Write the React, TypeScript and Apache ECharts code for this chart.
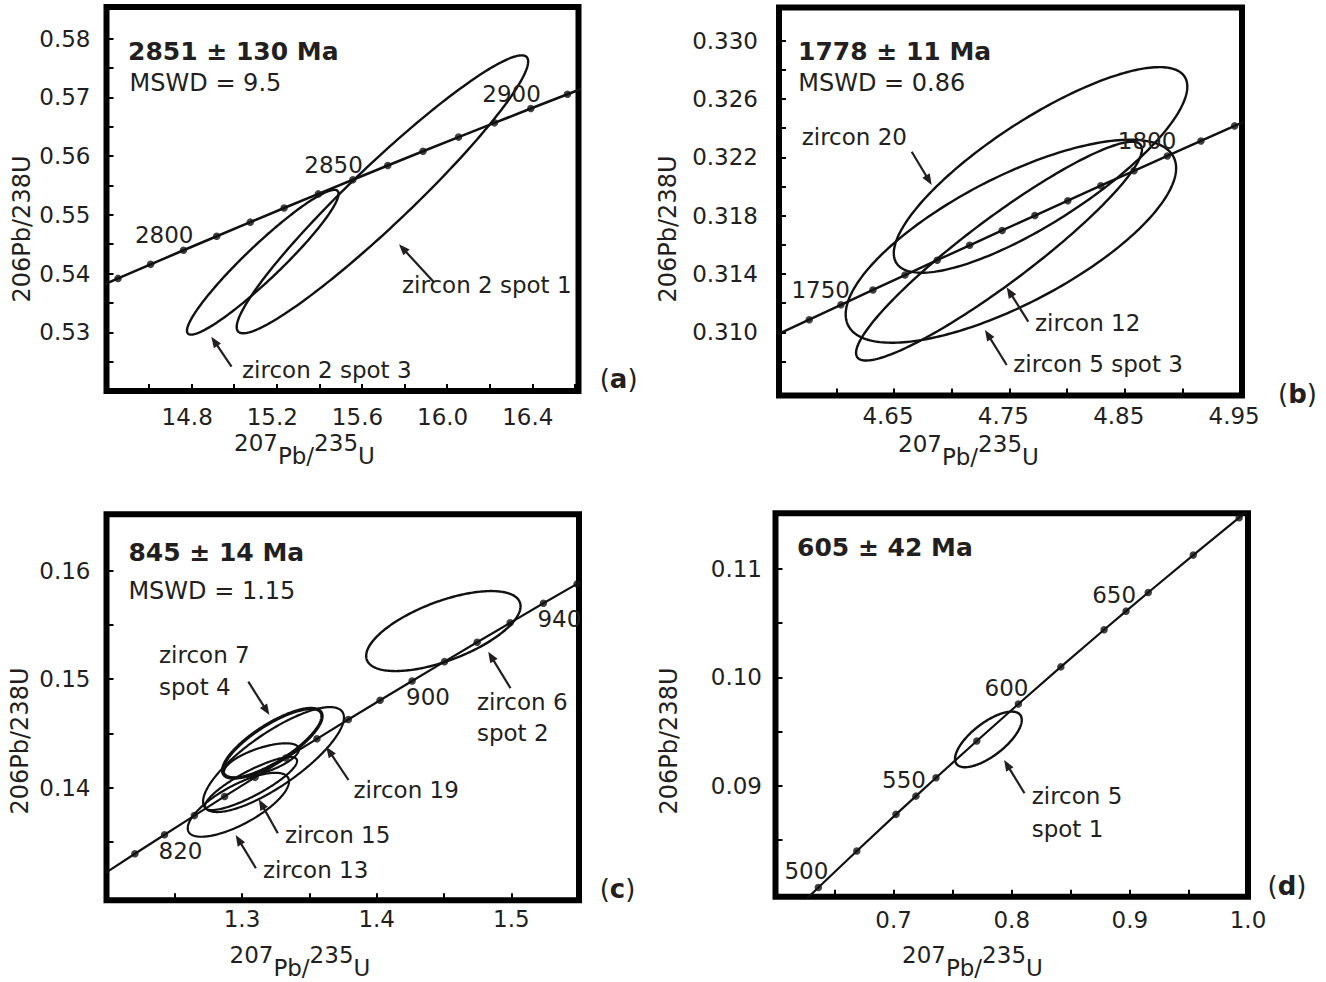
import React, { useEffect, useRef } from 'react';
import * as echarts from 'echarts';

const FONT = 'DejaVu Sans';
const INK = '#231f20';

// ================= Panel (a) =================
const agesA = [2770, 2780, 2790, 2800, 2810, 2820, 2830, 2840, 2850, 2860, 2870, 2880, 2890, 2900, 2910, 2920];
const r75A = [14.3028, 14.4542, 14.6072, 14.7617, 14.9177, 15.0752, 15.2343, 15.395, 15.5572, 15.7211, 15.8866, 16.0537, 16.2225, 16.393, 16.5651, 16.739];
const r68A = [0.53679, 0.53918, 0.54157, 0.54396, 0.54636, 0.54876, 0.55116, 0.55357, 0.55598, 0.5584, 0.56082, 0.56324, 0.56567, 0.5681, 0.57053, 0.57297];
const dotAgesA = [2780, 2790, 2800, 2810, 2820, 2830, 2840, 2850, 2860, 2870, 2880, 2890, 2900, 2910];
const labelAgesA = [2800, 2850, 2900];
const ellCxA = [15.696, 15.134];
const ellSxA = [0.6845, 0.356];
const ellCyA = [0.5535, 0.54193];
const ellSyA = [0.02367, 0.01233];
const ellRhoA = [0.955, 0.945];
const xRangeA = [14.4, 16.617];
const yRangeA = [0.52, 0.5854];
const xTicksA = [14.6, 14.8, 15.0, 15.2, 15.4, 15.6, 15.8, 16.0, 16.2, 16.4, 16.6];
const xLabelsA = [14.8, 15.2, 15.6, 16.0, 16.4];
const yTicksA = [0.525, 0.53, 0.535, 0.54, 0.545, 0.55, 0.555, 0.56, 0.565, 0.57, 0.575, 0.58];
const yLabelsA = [0.53, 0.54, 0.55, 0.56, 0.57, 0.58];

// ================= Panel (b) =================
const agesB = [1740, 1745, 1750, 1755, 1760, 1765, 1770, 1775, 1780, 1785, 1790, 1795, 1800, 1805, 1810, 1815];
const r75B = [4.5491, 4.5765, 4.604, 4.6317, 4.6595, 4.6874, 4.7155, 4.7437, 4.7721, 4.8006, 4.8292, 4.858, 4.8869, 4.916, 4.9452, 4.9745];
const r68B = [0.30986, 0.31087, 0.31189, 0.31291, 0.31393, 0.31495, 0.31597, 0.31699, 0.31801, 0.31903, 0.32006, 0.32108, 0.3221, 0.32313, 0.32416, 0.32518];
const dotAgesB = [1745, 1750, 1755, 1760, 1765, 1770, 1775, 1780, 1785, 1790, 1795, 1800, 1805, 1810];
const labelAgesB = [1750, 1800];
const ellCxB = [4.777, 4.741, 4.7513];
const ellSxB = [0.1272, 0.1239, 0.1432];
const ellCyB = [0.32114, 0.31557, 0.31625];
const ellSyB = [0.00705, 0.0075, 0.00696];
const ellRhoB = [0.81, 0.93, 0.72];
const xRangeB = [4.5503, 4.9516];
const yRangeB = [0.30567, 0.33228];
const xTicksB = [4.6, 4.65, 4.7, 4.75, 4.8, 4.85, 4.9, 4.95];
const xLabelsB = [4.65, 4.75, 4.85, 4.95];
const yTicksB = [0.308, 0.31, 0.312, 0.314, 0.316, 0.318, 0.32, 0.322, 0.324, 0.326, 0.328, 0.33];
const yLabelsB = [0.31, 0.314, 0.318, 0.322, 0.326, 0.33];

// ================= Panel (c) =================
const agesC = [800, 810, 820, 830, 840, 850, 860, 870, 880, 890, 900, 910, 920, 930, 940, 950, 960];
const r75C = [1.19873, 1.22049, 1.24247, 1.26466, 1.28708, 1.30971, 1.33257, 1.35566, 1.37897, 1.40252, 1.42629, 1.45031, 1.47456, 1.49905, 1.52378, 1.54876, 1.57399];
const r68C = [0.13213, 0.13389, 0.13565, 0.13741, 0.13918, 0.14094, 0.14272, 0.14449, 0.14627, 0.14805, 0.14983, 0.15161, 0.1534, 0.15519, 0.15699, 0.15878, 0.16058];
const dotAgesC = [810, 820, 830, 840, 850, 860, 870, 880, 890, 900, 910, 920, 930, 940, 950];
const labelAgesC = [820, 900, 940];
const ellCxC = [1.3225, 1.3234, 1.3145, 1.3067, 1.2973, 1.4495];
const ellSxC = [0.0369, 0.0523, 0.0278, 0.0342, 0.0376, 0.0573];
const ellCyC = [0.14408, 0.14258, 0.1425, 0.14037, 0.13841, 0.15443];
const ellSyC = [0.00321, 0.00484, 0.00158, 0.00245, 0.00295, 0.00369];
const ellRhoC = [0.78, 0.8, 0.65, 0.85, 0.73, 0.62];
const xRangeC = [1.1994, 1.5502];
const yRangeC = [0.1296, 0.1652];
const xTicksC = [1.25, 1.3, 1.35, 1.4, 1.45, 1.5, 1.55];
const xLabelsC = [1.3, 1.4, 1.5];
const yTicksC = [0.135, 0.14, 0.145, 0.15, 0.155, 0.16];
const yLabelsC = [0.14, 0.15, 0.16];

// ================= Panel (d) =================
const agesD = [480, 500, 520, 540, 550, 560, 580, 600, 620, 640, 650, 660, 680, 700, 720];
const r75D = [0.60437, 0.63628, 0.66883, 0.70203, 0.71887, 0.73588, 0.77041, 0.80563, 0.84155, 0.87818, 0.89677, 0.91554, 0.95365, 0.99251, 1.03215];
const r68D = [0.0773, 0.08065, 0.08401, 0.08738, 0.08906, 0.09075, 0.09414, 0.09754, 0.10096, 0.10438, 0.10609, 0.10781, 0.11125, 0.1147, 0.11817];
const dotAgesD = [500, 520, 540, 550, 560, 580, 600, 620, 640, 650, 660, 680, 700];
const labelAgesD = [500, 550, 600, 650];
const ellCxD = [0.78023];
const ellSxD = [0.02824];
const ellCyD = [0.09428];
const ellSyD = [0.00256];
const ellRhoD = [0.7];
const xRangeD = [0.6, 1.0];
const yRangeD = [0.0798, 0.1151];
const xTicksD = [0.65, 0.7, 0.75, 0.8, 0.85, 0.9, 0.95];
const xLabelsD = [0.7, 0.8, 0.9, 1.0];
const yTicksD = [0.085, 0.09, 0.095, 0.1, 0.105, 0.11];
const yLabelsD = [0.09, 0.1, 0.11];

const PANELS = [
  { ages: agesA, x: r75A, y: r68A, dots: dotAgesA, labels: labelAgesA, cx: ellCxA, sx: ellSxA, cy: ellCyA, sy: ellSyA, rho: ellRhoA, xRange: xRangeA, yRange: yRangeA, xTicks: xTicksA, xLabels: xLabelsA, yTicks: yTicksA, yLabels: yLabelsA, xDec: 1, yDec: 2 },
  { ages: agesB, x: r75B, y: r68B, dots: dotAgesB, labels: labelAgesB, cx: ellCxB, sx: ellSxB, cy: ellCyB, sy: ellSyB, rho: ellRhoB, xRange: xRangeB, yRange: yRangeB, xTicks: xTicksB, xLabels: xLabelsB, yTicks: yTicksB, yLabels: yLabelsB, xDec: 2, yDec: 3 },
  { ages: agesC, x: r75C, y: r68C, dots: dotAgesC, labels: labelAgesC, cx: ellCxC, sx: ellSxC, cy: ellCyC, sy: ellSyC, rho: ellRhoC, xRange: xRangeC, yRange: yRangeC, xTicks: xTicksC, xLabels: xLabelsC, yTicks: yTicksC, yLabels: yLabelsC, xDec: 1, yDec: 2 },
  { ages: agesD, x: r75D, y: r68D, dots: dotAgesD, labels: labelAgesD, cx: ellCxD, sx: ellSxD, cy: ellCyD, sy: ellSyD, rho: ellRhoD, xRange: xRangeD, yRange: yRangeD, xTicks: xTicksD, xLabels: xLabelsD, yTicks: yTicksD, yLabels: yLabelsD, xDec: 1, yDec: 2 },
];

// ================= Layout (pixels) =================
const LAYOUT = [
  { left: 106.5, top: 7, width: 472, height: 384, yMargin: 16, yPad: [0, 0, 0, 0], xMargin: 26, xPad: [0, 9, 0, 0], ageAlign: 'right', ageOffset: [10, -15], curveW: 2.6, ellW: [2.4, 2.4] },
  { left: 779, top: 7.5, width: 463, height: 388, yMargin: 21, yPad: [10, 0, 0, 0], xMargin: 20.5, xPad: [0, 12, 0, 0], ageAlign: 'right', ageOffset: [9, -15], curveW: 2.4, ellW: [2.4, 2.4, 2.4] },
  { left: 106.5, top: 514.3, width: 472.5, height: 386, yMargin: 16, yPad: [0, 0, 0, 0], xMargin: 19, xPad: [0, 0, 0, 0], ageAlign: 'left', ageOffset: [-6, 16], curveW: 2.2, ellW: [3.4, 2.2, 2.2, 2.2, 2.2, 2.4] },
  { left: 775.5, top: 513.3, width: 472.5, height: 383.4, yMargin: 13.5, yPad: [0, 0, 0, 0], xMargin: 23, xPad: [0, 0, 0, 0], ageAlign: 'right', ageOffset: [10, -16], curveW: 2.2, ellW: [2.4] },
];

const TITLES: [string, number, number][] = [
  ['2851 ± 130 Ma', 128, 51],
  ['1778 ± 11 Ma', 798, 51],
  ['845 ± 14 Ma', 128.4, 552.5],
  ['605 ± 42 Ma', 797, 547.5],
];
const MSWD: [string, number, number][] = [
  ['MSWD = 9.5', 129.6, 83.3],
  ['MSWD = 0.86', 798.3, 82.5],
  ['MSWD = 1.15', 128.4, 590.8],
];
const NOTES: [string, number, number][] = [
  ['zircon 2 spot 1', 402, 285],
  ['zircon 2 spot 3', 242, 370],
  ['zircon 20', 801.7, 136.7],
  ['zircon 12', 1035, 322.5],
  ['zircon 5 spot 3', 1013.3, 364],
  ['zircon 7', 159, 655],
  ['spot 4', 159, 686.7],
  ['zircon 19', 353.5, 790],
  ['zircon 15', 285, 835],
  ['zircon 13', 263, 870],
  ['zircon 6', 476.9, 701.7],
  ['spot 2', 476.9, 733.3],
  ['zircon 5', 1031.7, 795.8],
  ['spot 1', 1031.7, 829],
];
const ARROWS: [number, number, number, number][] = [
  [433.5, 281.7, 399, 244.3],
  [231.5, 366.7, 211.3, 336.7],
  [911.7, 151.7, 931.7, 185],
  [1028.3, 321.7, 1006.7, 287.3],
  [1006.7, 365, 985, 330],
  [248.3, 681.7, 269.4, 715],
  [510.5, 688.3, 488.2, 651.7],
  [348.5, 780, 326.2, 746.7],
  [277.8, 833.3, 258.8, 799.3],
  [255.9, 868.3, 235.7, 835],
  [1024.5, 793.3, 1004.1, 760],
];
// x-axis title: [left x, centre y of the raised numerals]
const XNAMES: [number, number][] = [[234, 443], [898, 443.5], [229.5, 954.5], [902, 955]];
const XNAME_PARTS: [string, boolean][] = [['207', true], ['Pb/', false], ['235', true], ['U', false]];
const YNAMES: [number, number][] = [[21.7, 229], [668, 229], [20.4, 741], [669, 741]];
const LETTERS: [string, number, number][] = [['a', 599.7, 379], ['b', 1278, 394], ['c', 599.7, 889], ['d', 1267.5, 886]];

let measureCtx: CanvasRenderingContext2D | null = null;
function textWidth(t: string, size: number) {
  if (!measureCtx) measureCtx = document.createElement('canvas').getContext('2d');
  if (!measureCtx) return t.length * size * 0.6;
  measureCtx.font = `${size}px "${FONT}"`;
  return measureCtx.measureText(t).width;
}

function text(t: string, x: number, y: number, size = 23, weight = 'normal') {
  return {
    type: 'text', x, y, silent: true, z: 10,
    style: { text: t, fill: INK, fontFamily: FONT, fontSize: size, fontWeight: weight, align: 'left', verticalAlign: 'middle' },
  };
}

function arrow(x1: number, y1: number, x2: number, y2: number) {
  const dx = x2 - x1, dy = y2 - y1;
  const L = Math.hypot(dx, dy);
  const ux = dx / L, uy = dy / L;
  const hl = 11, hw = 4.3;
  const bx = x2 - ux * hl, by = y2 - uy * hl;
  return [
    { type: 'line', silent: true, z: 10, shape: { x1, y1, x2: bx + ux * 2, y2: by + uy * 2 }, style: { stroke: INK, lineWidth: 2.2 } },
    { type: 'polygon', silent: true, z: 10, shape: { points: [[x2, y2], [bx - uy * hw, by + ux * hw], [bx + uy * hw, by - ux * hw]] }, style: { fill: INK } },
  ];
}

function buildOption() {
  const grid: any[] = [];
  const xAxis: any[] = [];
  const yAxis: any[] = [];
  const series: any[] = [];

  PANELS.forEach((P, i) => {
    const L = LAYOUT[i];
    grid.push({
      left: L.left, top: L.top, width: L.width, height: L.height,
      show: true, borderColor: '#000', borderWidth: 6, backgroundColor: 'transparent',
      containLabel: false, outerBoundsMode: 'none',
    });
    xAxis.push({
      gridIndex: i, type: 'value', min: P.xRange[0], max: P.xRange[1],
      axisLine: { show: false }, splitLine: { show: false },
      axisTick: { show: true, inside: true, length: 7, customValues: P.xTicks, lineStyle: { color: '#000', width: 2 } },
      axisLabel: {
        show: true, customValues: P.xLabels, formatter: (v: number) => v.toFixed(P.xDec),
        margin: L.xMargin, verticalAlign: 'middle', padding: L.xPad,
        fontFamily: FONT, fontSize: 23, color: INK,
      },
    });
    yAxis.push({
      gridIndex: i, type: 'value', min: P.yRange[0], max: P.yRange[1],
      axisLine: { show: false }, splitLine: { show: false },
      axisTick: { show: true, inside: true, length: 7, customValues: P.yTicks, lineStyle: { color: '#000', width: 2 } },
      axisLabel: {
        show: true, customValues: P.yLabels, formatter: (v: number) => v.toFixed(P.yDec),
        margin: L.yMargin, padding: L.yPad,
        fontFamily: FONT, fontSize: 23, color: INK,
      },
    });
    // error ellipses
    series.push({
      type: 'custom', xAxisIndex: i, yAxisIndex: i, clip: true, silent: true, z: 2,
      encode: { x: 0, y: 1 },
      data: P.cx.map((c, k) => [c, P.cy[k], P.sx[k], P.sy[k], P.rho[k]]),
      renderItem: (params: any, api: any) => {
        const cx = api.value(0), cy = api.value(1), sx = api.value(2), sy = api.value(3), r = api.value(4);
        const q = Math.sqrt(1 - r * r);
        const pts: number[][] = [];
        const N = 240;
        for (let j = 0; j < N; j++) {
          const t = (j / N) * Math.PI * 2;
          pts.push(api.coord([cx + sx * Math.cos(t), cy + sy * (r * Math.cos(t) + q * Math.sin(t))]));
        }
        return {
          type: 'polygon',
          shape: { points: pts },
          style: { fill: 'none', stroke: '#111', lineWidth: L.ellW[params.dataIndex] || 2.2 },
        };
      },
    });
    // concordia curve
    series.push({
      type: 'line', xAxisIndex: i, yAxisIndex: i, silent: true, z: 3, clip: true,
      showSymbol: false, symbol: 'none',
      data: P.x.map((v, k) => [v, P.y[k]]),
      lineStyle: { color: '#111', width: L.curveW },
    });
    // age marks + labels
    series.push({
      type: 'scatter', xAxisIndex: i, yAxisIndex: i, silent: true, z: 4,
      symbol: 'circle', symbolSize: 7.5, itemStyle: { color: '#111' },
      label: {
        position: 'inside', align: L.ageAlign, verticalAlign: 'middle', offset: L.ageOffset,
        fontFamily: FONT, fontSize: 23, color: INK, opacity: 1, textBorderWidth: 0,
      },
      data: P.dots.map((age) => {
        const k = P.ages.indexOf(age);
        return { value: [P.x[k], P.y[k]], label: { show: P.labels.includes(age), formatter: String(age) } };
      }),
    });
  });

  const graphic: any[] = [];
  TITLES.forEach(([t, x, y]) => graphic.push(text(t, x, y, 25, 'bold')));
  MSWD.forEach(([t, x, y]) => graphic.push(text(t, x, y, 24)));
  NOTES.forEach(([t, x, y]) => graphic.push(text(t, x, y, 23)));
  ARROWS.forEach(([a, b, c, d]) => graphic.push(...arrow(a, b, c, d)));
  const NAME_SIZE = 23;
  XNAMES.forEach(([x0, yS]) => {
    let x = x0;
    XNAME_PARTS.forEach(([t, raised]) => {
      graphic.push(text(t, x, raised ? yS : yS + 13, NAME_SIZE));
      x += textWidth(t, NAME_SIZE);
    });
  });
  YNAMES.forEach(([x, y]) => graphic.push({
    type: 'text', x, y, rotation: Math.PI / 2, silent: true, z: 10,
    style: { text: '206Pb/238U', fill: INK, fontFamily: FONT, fontSize: 24, align: 'center', verticalAlign: 'middle' },
  }));
  LETTERS.forEach(([l, x, y]) => graphic.push({
    type: 'text', x, y, silent: true, z: 10,
    style: {
      text: '({b|' + l + '})', fill: INK, fontFamily: FONT, fontSize: 26, align: 'left', verticalAlign: 'middle',
      rich: { b: { fontFamily: FONT, fontSize: 26, fontWeight: 'bold', fill: INK } },
    },
  }));

  return {
    animation: false,
    backgroundColor: '#ffffff',
    grid, xAxis, yAxis, series, graphic,
  };
}

export default function App() {
  const ref = useRef<HTMLDivElement>(null);
  useEffect(() => {
    const chart = echarts.init(ref.current!, undefined, { renderer: 'svg' });
    chart.setOption(buildOption() as any);
    return () => chart.dispose();
  }, []);
  return (
    <div
      ref={ref}
      style={{ position: 'absolute', left: 0, top: 0, width: 1326, height: 982, background: '#fff' }}
    />
  );
}
